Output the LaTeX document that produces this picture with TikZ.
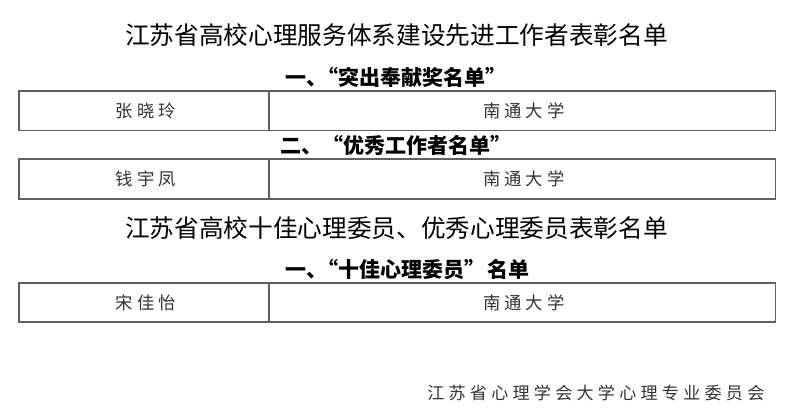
\documentclass[tikz,border=0pt]{standalone}
\usepackage{fontspec}
\newfontfamily\cjk{Noto Sans CJK SC}
\newfontfamily\cjksp[LetterSpace=22]{Noto Sans CJK SC}
\newfontfamily\cjkft[LetterSpace=25]{Noto Sans CJK SC}
\definecolor{linegray}{HTML}{606060}
\definecolor{txtgray}{HTML}{333333}
\newcommand{\pk}{\hspace{-0.48em}}
\tikzset{
  title/.style={font=\cjk\fontsize{18.5}{21}\selectfont, text=black, inner sep=0pt, anchor=west},
  heading/.style={font=\cjk\bfseries\fontsize{15.75}{18}\selectfont, text=black, inner sep=0pt, anchor=west},
  cell/.style={draw=linegray, line width=0.9pt, inner sep=0pt, font=\cjksp\fontsize{13}{15}\selectfont, text=txtgray},
  footer/.style={font=\cjkft\fontsize{12.8}{15}\selectfont, text=txtgray, inner sep=0pt, anchor=west}
}
\begin{document}
\begin{tikzpicture}[x=0.75pt,y=-0.75pt]
\useasboundingbox (0,0) rectangle (799,414);
\fill[white] (0,0) rectangle (799,414);
\node[title] (t1) at (125,35) {江苏省高校心理服务体系建设先进工作者表彰名单};
\node[heading] (h1) at (285,77) {一、\pk“突出奉献奖名单”};
\node[cell, minimum width=187.5pt, minimum height=29.6pt] (a1) at (144,110.75) {\hspace{0.2em}张晓玲};
\node[cell, minimum width=379.9pt, minimum height=29.6pt] (b1) at (522.25,110.75) {\hspace{0.2em}南通大学};
\node[heading] (h2) at (280,145) {二、“优秀工作者名单”};
\node[cell, minimum width=187.5pt, minimum height=30pt] (a2) at (144,179) {\hspace{0.2em}钱宇凤};
\node[cell, minimum width=379.9pt, minimum height=30pt] (b2) at (522.25,179) {\hspace{0.2em}南通大学};
\node[title] (t2) at (125,228) {江苏省高校十佳心理委员、优秀心理委员表彰名单};
\node[heading] (h3) at (285,270) {一、\pk“十佳心理委员”\hspace{0.1em}名单};
\node[cell, minimum width=187.5pt, minimum height=29.25pt] (a3) at (144,302.5) {\hspace{0.2em}宋佳怡};
\node[cell, minimum width=379.9pt, minimum height=29.25pt] (b3) at (522.25,302.5) {\hspace{0.2em}南通大学};
\node[footer] (f) at (427,393) {江苏省心理学会大学心理专业委员会};
\end{tikzpicture}
\end{document}
